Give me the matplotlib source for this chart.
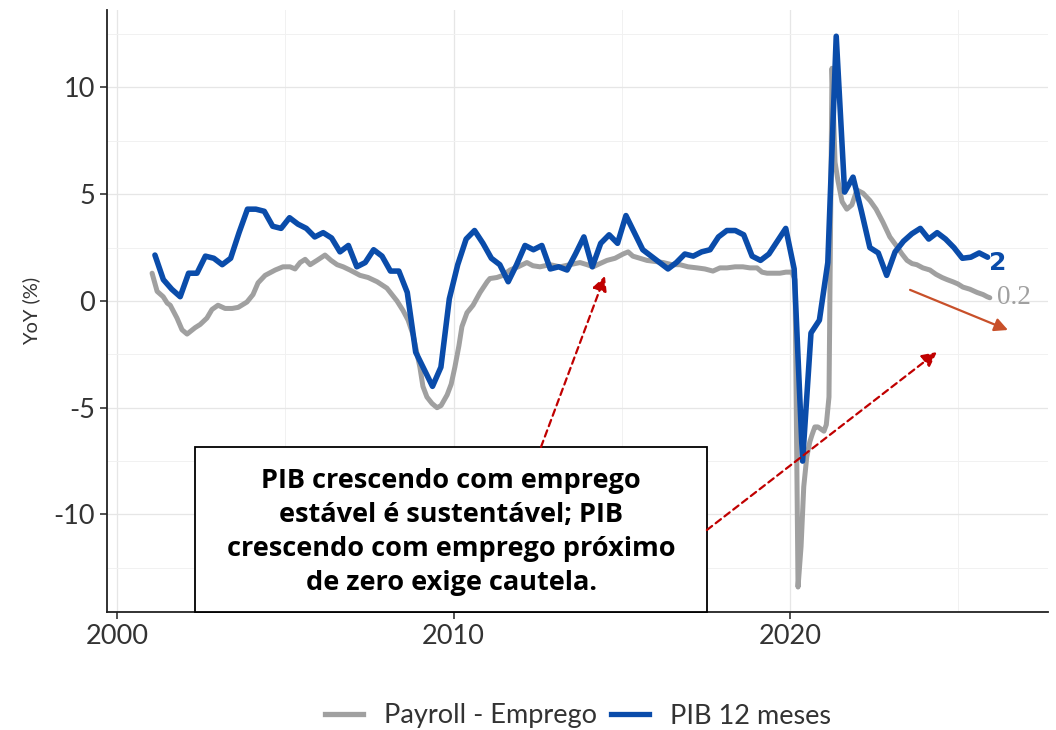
import matplotlib
matplotlib.use("Agg")
import matplotlib.pyplot as plt
from matplotlib.patches import Rectangle
from matplotlib.lines import Line2D
import numpy as np

plt.rcParams['axes.unicode_minus'] = False
plt.rcParams['font.family'] = ['Lato', 'DejaVu Sans']

# ---------------- data ----------------
# PIB 12 meses (quarterly, first point 2001.125, step 0.25)
pib_start = 2001.125
pib_vals = [2.15, 1.0, 0.55, 0.2, 1.3, 1.3, 2.1, 2.0, 1.7, 2.0,
            3.2, 4.3, 4.3, 4.2, 3.5, 3.4, 3.9, 3.6, 3.4, 3.0,
            3.2, 2.95, 2.3, 2.6, 1.6, 1.8, 2.4, 2.1, 1.4, 1.4,
            0.4, -2.4, -3.2, -4.0, -3.1, 0.1, 1.7, 2.9, 3.3, 2.7,
            2.0, 1.7, 0.9, 1.7, 2.6, 2.4, 2.6, 1.5, 1.6, 1.45,
            2.2, 3.0, 1.6, 2.7, 3.1, 2.7, 4.0, 3.2, 2.4, 2.1,
            1.8, 1.5, 1.8, 2.2, 2.1, 2.3, 2.4, 3.0, 3.3, 3.3,
            3.1, 2.1, 1.9, 2.2, 2.8, 3.4, 1.5, -7.5, -1.5, -0.9,
            1.8, 12.4, 5.1, 5.8, 4.2, 2.5, 2.25, 1.2, 2.3, 2.8,
            3.15, 3.4, 2.9, 3.2, 2.9, 2.5, 2.0, 2.05, 2.25, 2.05]
pib_dates = [pib_start + 0.25 * i for i in range(len(pib_vals))]

# Payroll - Emprego (YoY %, read at irregular dates)
pay_dates = [2001.04, 2001.19, 2001.37, 2001.49, 2001.58, 2001.78, 2001.93, 2002.08,
             2002.32, 2002.47, 2002.67, 2002.82, 2003.00, 2003.21, 2003.42, 2003.60,
             2003.86, 2004.04, 2004.19, 2004.40, 2004.70, 2004.93, 2005.14, 2005.29,
             2005.44, 2005.59, 2005.74, 2005.94, 2006.18, 2006.36, 2006.54, 2006.72,
             2006.92, 2007.22, 2007.46, 2007.73, 2008.02, 2008.32, 2008.50, 2008.65,
             2008.80, 2008.92, 2009.00, 2009.09, 2009.21, 2009.36, 2009.51, 2009.63,
             2009.81, 2009.93, 2010.04, 2010.16, 2010.25, 2010.40, 2010.58, 2010.79,
             2011.00, 2011.08, 2011.29, 2011.47, 2011.68, 2011.92, 2012.18, 2012.36,
             2012.57, 2012.87, 2013.16, 2013.46, 2013.76, 2013.97, 2014.15, 2014.35,
             2014.56, 2014.80, 2015.04, 2015.19, 2015.33, 2015.54, 2015.75, 2015.99,
             2016.23, 2016.49, 2016.73, 2016.97, 2017.24, 2017.47, 2017.71, 2017.92,
             2018.13, 2018.37, 2018.60, 2018.81, 2019.02, 2019.17, 2019.32, 2019.55,
             2019.70, 2019.88, 2020.06, 2020.15, 2020.24, 2020.33, 2020.41, 2020.50,
             2020.59, 2020.65, 2020.74, 2020.83, 2020.92, 2021.01, 2021.08, 2021.16,
             2021.25, 2021.34, 2021.43, 2021.55, 2021.69, 2021.84, 2021.99, 2022.17,
             2022.38, 2022.56, 2022.76, 2022.97, 2023.18, 2023.33, 2023.48, 2023.63,
             2023.77, 2023.95, 2024.16, 2024.34, 2024.52, 2024.67, 2024.84, 2024.99,
             2025.14, 2025.35, 2025.56, 2025.74, 2025.86, 2025.94]
pay_vals = [1.3, 0.45, 0.2, -0.1, -0.2, -0.8, -1.35, -1.55,
            -1.25, -1.1, -0.8, -0.4, -0.2, -0.35, -0.35, -0.3,
            -0.05, 0.3, 0.85, 1.2, 1.45, 1.6, 1.6, 1.5,
            1.8, 1.95, 1.7, 1.9, 2.15, 1.9, 1.7, 1.6,
            1.45, 1.2, 1.1, 0.9, 0.6, 0.0, -0.45, -0.9,
            -1.6, -2.5, -3.1, -4.0, -4.5, -4.8, -5.0, -4.9,
            -4.4, -3.9, -3.1, -2.1, -1.2, -0.55, -0.2, 0.4,
            0.9, 1.05, 1.1, 1.2, 1.45, 1.6, 1.8, 1.65,
            1.6, 1.7, 1.6, 1.7, 1.8, 1.7, 1.6, 1.75,
            1.9, 2.0, 2.2, 2.3, 2.1, 2.0, 1.9, 1.85,
            1.8, 1.7, 1.7, 1.6, 1.55, 1.5, 1.4, 1.55,
            1.55, 1.6, 1.6, 1.55, 1.55, 1.35, 1.3, 1.3,
            1.3, 1.35, 1.35, 1.0, -13.4, -11.5, -8.7, -7.3,
            -6.6, -6.3, -5.9, -5.9, -6.0, -6.1, -5.8, -4.5,
            10.9, 6.5, 5.6, 4.65, 4.3, 4.5, 5.2, 5.05,
            4.7, 4.3, 3.7, 3.0, 2.55, 2.2, 1.9, 1.75,
            1.7, 1.55, 1.45, 1.25, 1.1, 1.0, 0.9, 0.8,
            0.65, 0.55, 0.4, 0.3, 0.2, 0.15]

x_ticks = [2000, 2010, 2020]
y_ticks = [10, 5, 0, -5, -10]
series_names = ["Payroll - Emprego", "PIB 12 meses"]
end_labels = ["0.2", "2"]
note_text = ("PIB crescendo com emprego\nestável é sustentável; PIB\n"
             "crescendo com emprego próximo\nde zero exige cautela.")

GRAY = "#A0A0A0"
BLUE = "#0A4CAA"
RED = "#C00000"
ORANGE = "#C8502A"

# ---------------- figure ----------------
fig = plt.figure(figsize=(10.56, 7.30), dpi=100)
ax = fig.add_axes([107/1056, 1 - 612/730, (1048-107)/1056, (612-10)/730])

ax.set_xlim(1999.70, 2027.67)
ax.set_ylim(-14.57, 13.63)

ax.set_xticks(x_ticks)
ax.set_xticks([2005, 2015, 2025], minor=True)
ax.set_yticks(y_ticks)
ax.set_yticks([12.5, 7.5, 2.5, -2.5, -7.5, -12.5], minor=True)
ax.set_xticklabels([str(v) for v in x_ticks])
ax.set_yticklabels([str(v) for v in y_ticks])
ax.grid(which='major', color='#E6E6E6', lw=0.9, zorder=0)
ax.grid(which='minor', color='#F1F1F1', lw=0.7, zorder=0)
ax.set_axisbelow(True)
ax.tick_params(axis='both', which='major', labelsize=19.5, length=5, width=1.2,
               colors='#333333', labelcolor='#333333')
ax.tick_params(axis='both', which='minor', length=0)
for s in ['top', 'right']:
    ax.spines[s].set_visible(False)
for s in ['left', 'bottom']:
    ax.spines[s].set_color('#222222')
    ax.spines[s].set_linewidth(1.3)
ax.set_ylabel("YoY (%)", fontsize=14.5, color='#333333', labelpad=10)

ax.plot(pay_dates, pay_vals, color=GRAY, lw=3.6, solid_joinstyle='round',
        solid_capstyle='round', zorder=3)
ax.plot(pib_dates, pib_vals, color=BLUE, lw=4.0, solid_joinstyle='round',
        solid_capstyle='round', zorder=4)

ax.text(pay_dates[-1] + 0.2, pay_vals[-1], end_labels[0], color=GRAY,
        fontsize=19.5, family=['Liberation Serif', 'DejaVu Serif'],
        va='center', ha='left', zorder=5)
ax.text(pib_dates[-1] + 0.05, pib_vals[-1] - 0.25, end_labels[1], color=BLUE,
        fontsize=18, family=['DejaVu Sans'], fontweight='bold',
        va='center', ha='left', zorder=5)

# annotation box
box = Rectangle(((195-107)/941, 0.0), (707-195)/941, (612-447)/602,
                transform=ax.transAxes, facecolor='white', edgecolor='black',
                lw=1.3, zorder=6, clip_on=False)
ax.add_patch(box)
ax.text((451-107)/941, (612-532)/602, note_text, transform=ax.transAxes,
        ha='center', va='center', fontsize=19.5, fontweight='bold',
        family=['Open Sans', 'DejaVu Sans'], linespacing=1.4, zorder=7)

# arrows
ax.annotate("", xy=(2014.50, 1.17), xytext=(2012.60, -6.84),
            arrowprops=dict(arrowstyle='-|>', color=RED, lw=1.6, ls=(0, (3, 2)),
                            mutation_scale=22, shrinkA=0, shrinkB=0), zorder=6)
ax.annotate("", xy=(2024.37, -2.39), xytext=(2017.53, -10.73),
            arrowprops=dict(arrowstyle='-|>', color=RED, lw=1.6, ls=(0, (3, 2)),
                            mutation_scale=22, shrinkA=0, shrinkB=0), zorder=6)
ax.annotate("", xy=(2026.48, -1.36), xytext=(2023.57, 0.52),
            arrowprops=dict(arrowstyle='-|>', color=ORANGE, lw=1.6,
                            mutation_scale=20, shrinkA=0, shrinkB=0), zorder=6)

# legend
handles = [Line2D([0], [0], color=GRAY, lw=3.8),
           Line2D([0], [0], color=BLUE, lw=3.8)]
fig.legend(handles, series_names, loc='center', bbox_to_anchor=(578/1056, 1 - 716/730),
           ncol=2, frameon=False, fontsize=19.5, handlelength=1.4, handletextpad=0.8,
           columnspacing=0.5, labelcolor='#333333')

fig.savefig("out.png", dpi=100, facecolor='white')
